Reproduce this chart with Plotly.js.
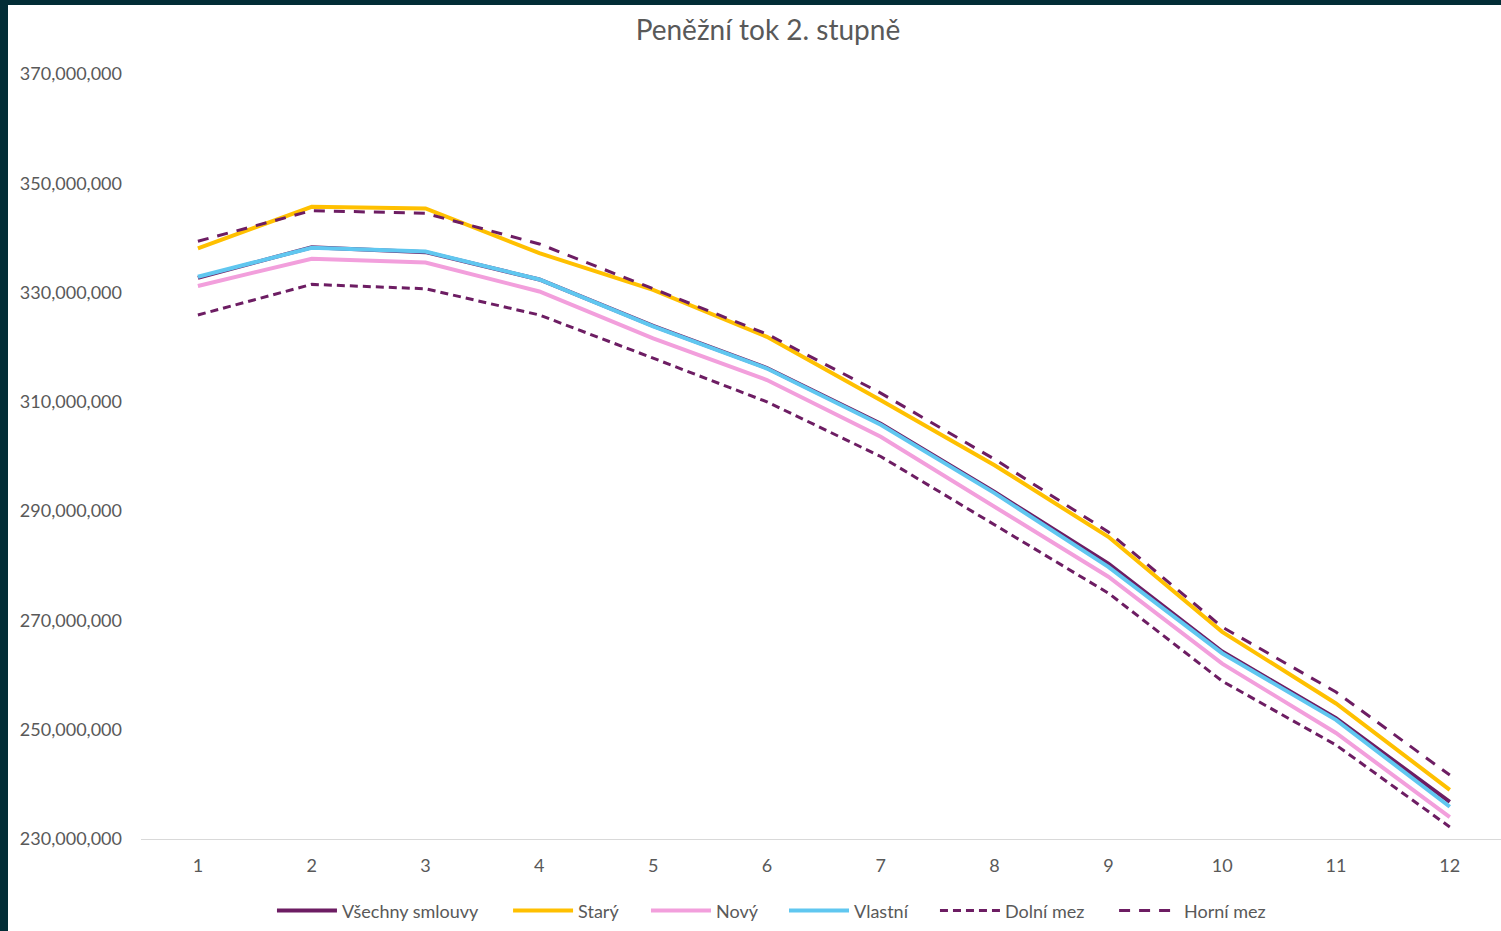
<!DOCTYPE html>
<html>
<head>
<meta charset="utf-8">
<script src="https://cdn.plot.ly/plotly-3.0.1.min.js"></script>
<style>
  html, body { margin: 0; padding: 0; background: #022d36; width: 1501px; height: 931px; overflow: hidden; }
  #chart { position: absolute; left: 8px; top: 5px; width: 1493px; height: 926px; background: #ffffff; }
</style>
</head>
<body>
<div id="chart"></div>
<script>
const months = [1, 2, 3, 4, 5, 6, 7, 8, 9, 10, 11, 12];
const vsechny = [332.7e6, 338.3e6, 337.4e6, 332.4e6, 323.9e6, 316.2e6, 306.0e6, 293.5e6, 280.4e6, 264.3e6, 252.1e6, 236.8e6];
const stary   = [338.1e6, 345.7e6, 345.4e6, 337.2e6, 330.5e6, 321.9e6, 310.3e6, 298.4e6, 285.3e6, 267.9e6, 254.8e6, 239.0e6];
const novy    = [331.2e6, 336.2e6, 335.5e6, 330.2e6, 321.6e6, 314.0e6, 303.6e6, 290.8e6, 278.0e6, 262.1e6, 249.4e6, 234.0e6];
const vlastni = [332.9e6, 338.2e6, 337.5e6, 332.4e6, 323.8e6, 316.1e6, 305.8e6, 293.3e6, 279.8e6, 264.0e6, 251.8e6, 235.9e6];
const dolni   = [325.9e6, 331.5e6, 330.7e6, 325.9e6, 318.0e6, 310.0e6, 300.0e6, 287.5e6, 275.0e6, 258.9e6, 247.2e6, 232.2e6];
const horni   = [339.4e6, 345.0e6, 344.5e6, 338.9e6, 330.7e6, 322.4e6, 311.6e6, 299.5e6, 286.2e6, 268.8e6, 256.9e6, 241.7e6];
const yTicks = [230e6, 250e6, 270e6, 290e6, 310e6, 330e6, 350e6, 370e6];

const purple = '#6d1d63';
const font = 'Lato, "Open Sans", sans-serif';

const traces = [
  {x: months, y: vsechny, name: 'Všechny smlouvy', legend: 'legend', mode: 'lines', line: {color: purple, width: 4}},
  {x: months, y: stary, name: 'Starý', legend: 'legend2', mode: 'lines', line: {color: '#ffc000', width: 4}},
  {x: months, y: novy, name: 'Nový', legend: 'legend3', mode: 'lines', line: {color: '#f29fdc', width: 4}},
  {x: months, y: vlastni, name: 'Vlastní', legend: 'legend4', mode: 'lines', line: {color: '#60c7f0', width: 4}},
  {x: months, y: dolni, name: 'Dolní mez', legend: 'legend5', mode: 'lines', line: {color: purple, width: 3, dash: '8px,5px'}},
  {x: months, y: horni, name: 'Horní mez', legend: 'legend6', mode: 'lines', line: {color: purple, width: 3, dash: '11px,9px'}}
];

// legend entry start positions (fraction of plot width)
const legendX = [0.0963, 0.2699, 0.3713, 0.4728, 0.5838, 0.7155];
function legendOpts(x) {
  return {orientation: 'h', x: x, xanchor: 'left', y: -0.094, yanchor: 'middle',
    font: {size: 18, color: '#595959'}, itemwidth: 60, bgcolor: 'rgba(0,0,0,0)'};
}

const layout = {
  width: 1493, height: 926,
  paper_bgcolor: '#ffffff', plot_bgcolor: '#ffffff',
  margin: {l: 133, r: 0, t: 69, b: 92},
  font: {family: font, color: '#595959', size: 18},
  title: {text: 'Peněžní tok 2. stupně', x: 0.509, xanchor: 'center', y: 0.973, yanchor: 'middle', font: {family: font, size: 28, color: '#595959'}},
  xaxis: {
    range: [0.5, 12.45], tickmode: 'array', tickvals: months, ticktext: months.map(String),
    showgrid: false, zeroline: false, showline: true, linecolor: '#d9d9d9', linewidth: 1,
    ticks: '', ticklabelstandoff: 10, tickfont: {size: 18, color: '#595959'}, fixedrange: true
  },
  yaxis: {
    range: [230e6, 370e6], tickmode: 'array', tickvals: yTicks, tickformat: ',d',
    showgrid: false, zeroline: false, showline: false, ticks: '', ticklabelstandoff: 18,
    tickfont: {size: 18, color: '#595959'}, fixedrange: true
  },
  showlegend: true,
  legend: legendOpts(legendX[0]),
  legend2: legendOpts(legendX[1]),
  legend3: legendOpts(legendX[2]),
  legend4: legendOpts(legendX[3]),
  legend5: legendOpts(legendX[4]),
  legend6: legendOpts(legendX[5])
};

Plotly.newPlot('chart', traces, layout, {displayModeBar: false, staticPlot: true});
</script>
</body>
</html>
